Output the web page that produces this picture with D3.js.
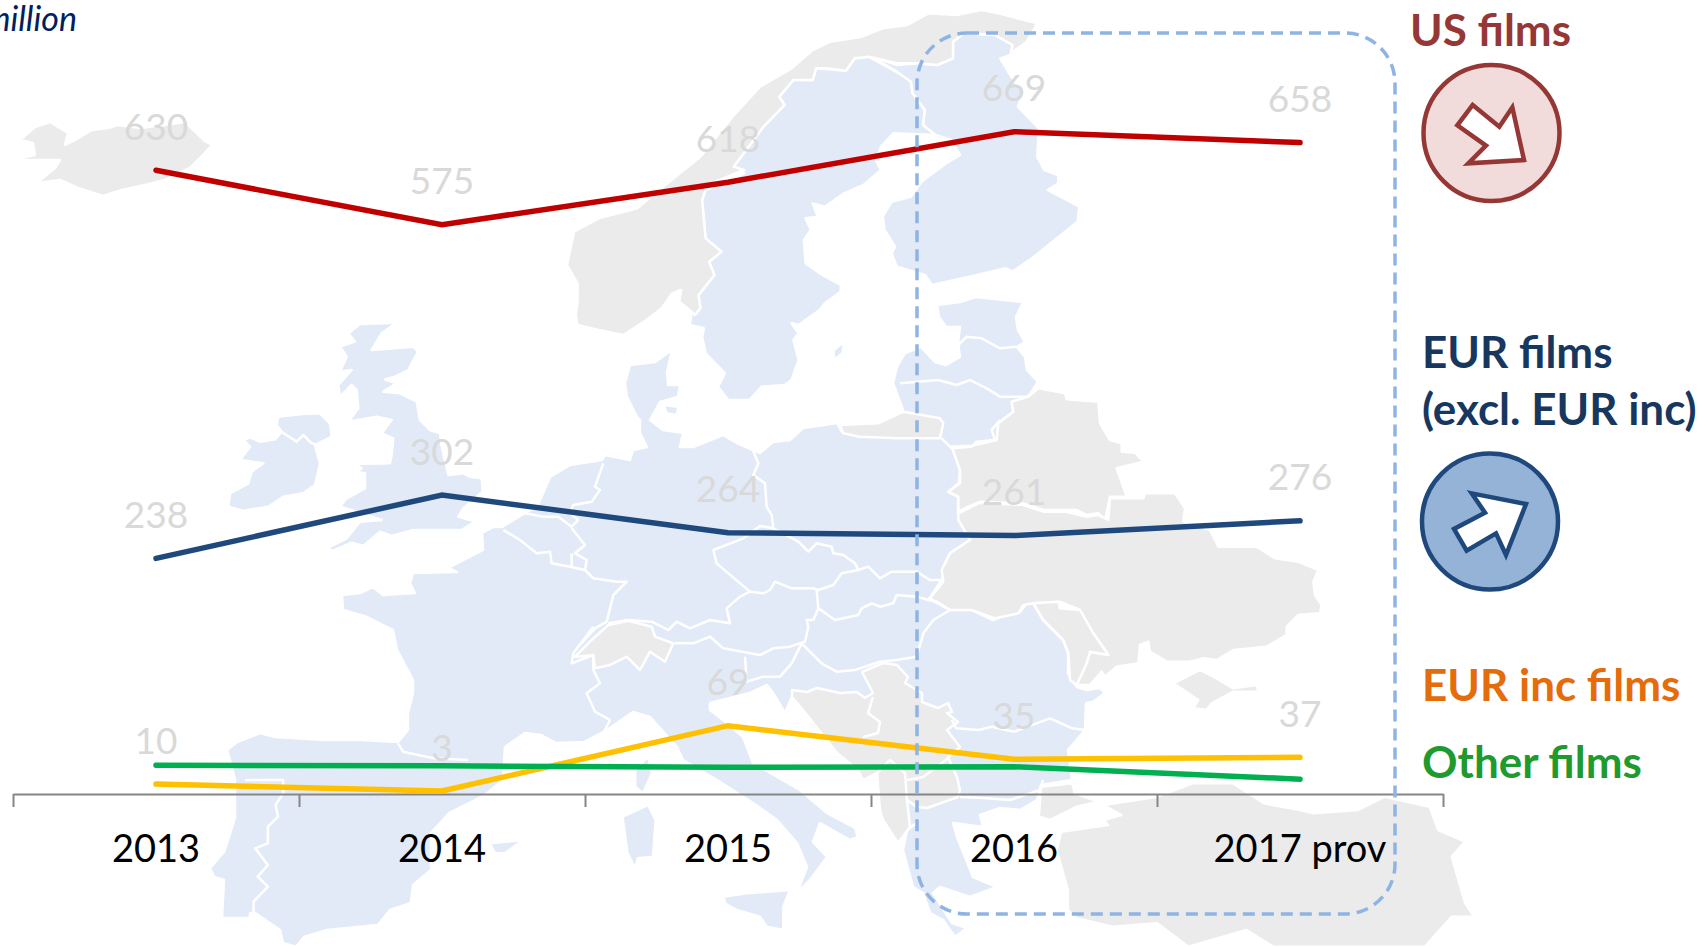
<!DOCTYPE html>
<html>
<head>
<meta charset="utf-8">
<script src="https://cdn.jsdelivr.net/npm/d3@7"></script>
<style>
    html, body { margin: 0; padding: 0; background: #fff; }
    svg { display: block; }
    text { font-family: Lato, 'Open Sans', sans-serif; }
</style>
</head>
<body>
<div id="chart"></div>
<script>
const years = ['2013', '2014', '2015', '2016', '2017 prov'];

const usFilms = [630, 575, 618, 669, 658];
const eurFilms = [238, 302, 264, 261, 276];
const eurIncFilms = [10, 3, 69, 35, 37];
// no labels on the green line in the picture, read from its height
const otherFilms = [29, 28.5, 27, 27.5, 15];

const legendUs = ['US films'];
const legendEur = ['EUR films', '(excl. EUR inc)'];
const legendInc = ['EUR inc films'];
const legendOther = ['Other films'];

const mapBlue = '#e2eaf7';
const mapGrey = '#ebebeb';

// background map, traced in the pixel space of a few crops: [x0, y0, sx, sy]
const FULL = [0, 0, 1, 1];
const UK = [200, 300, 3, 3];
const NORD = [560, 0, 2.85, 3];
const MID = [550, 400, 3, 3];
const EAST = [900, 280, 3, 3];
const SOUTH = [650, 680, 3, 3];
const IBERIA = [0, 680, 1.96, 3];
const TURKEY = [800, 650, 2.24, 3];

const blueLand = [
    [FULL, '342,595 360,593 373,587 383,595 415,593 410,583 413,573 407,567 415,573 457,572 448,568 483,550 482,533 493,527 502,527 525,513 537,507 550,477 570,465 602,460 605,455 630,460 633,450 647,447 640,433 640,420 637,417 627,397 625,383 630,365 655,362 672,350 667,372 668,385 680,385 678,397 660,402 650,420 663,430 683,433 680,447 693,447 723,435 737,443 760,453 773,442 790,440 803,428 837,423 842,432 860,437 878,433 880,423 903,410 893,383 897,367 905,353 921,347 935,362 946,365 960,357 958,343 960,327 946,327 939,317 937,305 960,302 976,297 1023,302 1016,317 1018,330 1025,342 1017,347 1025,357 1027,370 1038,382 1028,397 1012,402 1013,412 998,423 997,440 972,446 952,447 960,470 959,483 948,492 958,497 958,513 967,530 970,540 950,553 942,570 943,582 930,598 935,602 950,610 972,610 993,620 1010,613 1020,612 1027,603 1033,603 1043,620 1063,640 1068,653 1068,673 1077,687 1087,690 1100,688 1105,693 1093,702 1086,703 1085,730 1068,750 1072,780 1041,785 1037,800 1020,810 1000,808 980,815 983,827 953,823 957,837 973,877 997,887 970,897 940,887 933,893 952,923 967,928 955,937 943,920 930,913 923,893 913,887 903,850 907,830 917,823 910,827 898,843 883,820 880,810 877,773 863,780 858,770 837,753 803,710 792,697 785,713 773,693 767,685 750,693 710,703 710,710 727,723 743,737 753,763 800,790 827,813 855,828 858,837 850,840 820,823 813,842 827,857 810,880 797,893 807,867 797,843 777,820 753,803 717,780 683,760 677,747 650,717 633,712 607,730 584,742 556,743 541,735 525,733 505,747 503,780 485,795 449,813 431,833 431,870 413,885 411,903 390,910 378,925 357,927 327,930 304,937 296,947 283,943 280,930 255,913 250,913 250,918 222,918 224,880 214,877 210,868 224,852 235,818 235,780 230,760 227,750 237,742 260,733 275,737 326,740 362,740 398,742 408,730 408,713 413,693 413,680 397,650 393,630 367,617 343,610'],
    [UK, '480,72 590,68 545,100 515,150 640,140 655,155 635,190 625,210 585,230 555,238 590,250 550,275 600,280 650,305 660,360 690,390 720,400 725,440 745,525 790,520 810,530 845,535 848,575 830,590 790,625 775,650 825,665 785,690 640,690 575,708 540,695 490,738 455,728 400,752 380,745 440,715 480,665 545,660 470,635 420,620 440,595 495,565 495,520 470,515 485,505 465,492 570,490 575,465 580,415 545,400 575,360 530,350 445,365 475,325 470,270 455,255 420,290 415,255 455,210 420,215 440,170 420,140 465,125 445,100'],
    [UK, '235,350 305,342 360,340 390,370 395,410 345,435 360,490 345,555 310,580 250,590 205,620 130,632 85,620 90,580 145,550 155,515 190,490 120,480 150,440 130,420 150,412 180,425 225,418 245,395 230,375'],
    [NORD, '415,570 525,520 495,500 580,380 640,315 625,290 665,240 720,240 730,205 815,212 840,175 880,170 1000,240 1005,280 1040,330 1035,375 1070,405 950,400 915,440 900,480 915,510 865,555 810,580 755,620 720,610 735,650 700,655 715,690 695,720 700,790 740,820 800,855 800,875 755,910 740,930 680,975 660,970 680,1000 665,1020 680,1080 660,1140 640,1155 575,1160 540,1200 480,1200 450,1160 470,1120 415,1060 405,1010 410,985 370,975 375,940 400,925 395,885 440,825 425,785 460,755 415,715 405,600'],
    [NORD, '780,1050 810,1025 805,1060 780,1080'],
    [NORD, '1020,190 1075,195 1120,175 1120,125 1150,100 1240,105 1290,135 1285,165 1255,175 1280,220 1320,280 1305,320 1365,385 1360,470 1380,510 1420,525 1420,550 1390,570 1480,620 1475,665 1345,775 1290,815 1270,805 1190,825 1060,855 1040,825 960,800 945,760 955,740 925,690 920,650 945,605 1000,590 1030,545 1100,490 1140,465 1115,420 1070,405 1035,375 1040,330 1005,280 1000,245 960,215 880,165 960,195'],
    [SOUTH, '220,650 290,640 420,630 400,680 400,750 350,740 330,710 260,690 225,670'],
    [IBERIA, '1220,410 1270,375 1285,420 1280,530 1250,535 1245,565 1230,520'],
    [IBERIA, '1270,230 1278,280 1260,340 1245,320 1245,270'],
    [IBERIA, '960,490 990,485 1025,480 990,520 970,520'],
    [MID, '340,15 385,20 380,45 350,40']
];

const greyLand = [
    [FULL, '15,159 35,155 33,143 20,140 35,127 50,122 68,133 65,145 75,140 92,130 108,128 118,125 140,128 165,125 185,122 205,141 212,145 200,158 190,168 165,180 145,185 122,190 103,196 78,188 60,180 37,183 55,168 60,160 30,160'],
    [NORD, '45,945 50,975 110,990 180,1005 240,965 290,925 320,880 345,870 340,905 375,935 385,945 400,925 395,885 440,825 425,785 460,755 415,715 405,600 420,555 525,510 495,500 580,380 640,315 625,290 665,240 720,240 730,205 760,205 815,212 840,175 880,170 960,190 1020,190 1075,195 1120,175 1120,125 1150,100 1240,105 1290,135 1285,160 1330,125 1360,70 1250,40 1200,30 1130,45 1050,40 990,75 920,85 860,110 770,125 720,150 660,205 570,260 500,340 400,470 300,555 220,625 110,655 40,695 20,795 50,850 50,905'],
    [MID, '870,75 985,70 1060,35 1170,55 1180,70 1170,115 1040,115 930,110 880,100'],
    [MID, '75,770 130,715 175,675 235,662 305,680 315,710 370,730 345,785 300,755 270,810 230,770 180,795 135,805 130,765 80,770'],
    [FULL, '792,690 807,692 817,688 840,693 857,692 865,698 873,693 862,672 883,663 897,665 908,677 905,683 922,693 922,702 938,708 948,703 952,712 947,713 958,722 947,730 960,747 948,757 957,777 960,790 958,797 927,808 917,807 907,800 910,827 898,843 883,820 880,810 877,773 863,780 858,770 837,753 803,710 792,697'],
    [EAST, '415,325 495,340 500,358 595,365 600,430 630,480 665,490 665,515 705,518 730,545 650,565 680,650 630,650 615,720 595,700 560,705 530,690 500,690 430,690 370,670 240,665 205,680 175,695 175,650 145,635 180,610 180,570 155,500 215,497 290,480 295,430 340,395 335,365 385,350'],
    [EAST, '175,700 240,668 370,675 430,695 500,695 560,710 595,705 625,720 630,655 730,655 735,640 825,640 855,685 850,725 930,750 955,800 1070,800 1125,835 1195,845 1255,870 1240,905 1245,945 1265,975 1260,1000 1195,1005 1160,1040 1160,1065 1100,1100 1000,1110 950,1140 910,1135 870,1145 800,1145 750,1115 745,1085 720,1095 715,1150 650,1160 615,1190 605,1175 570,1215 530,1215 560,1150 570,1115 625,1125 580,1060 540,990 480,965 400,970 370,975 355,1000 285,1015 215,990 150,990 90,955 130,905 125,870 150,820 210,780 175,720'],
    [EAST, '400,970 475,965 480,985 540,990 580,1060 625,1125 570,1115 560,1150 530,1215 510,1200 505,1120 490,1080 430,1020'],
    [EAST, '820,1210 900,1170 950,1195 1000,1225 1070,1215 1075,1235 1000,1235 935,1270 920,1290 880,1285 895,1260'],
    [TURKEY, '800,440 680,465 720,495 680,510 690,525 585,545 575,600 600,720 600,780 620,805 700,830 800,820 870,890 1000,840 1060,890 1400,890 1460,800 1510,800 1490,760 1460,620 1490,575 1430,540 1410,470 1310,440 1250,480 1150,490 1120,480 1040,460 970,400 880,400'],
    [TURKEY, '540,410 610,400 615,430 668,455 620,470 560,510 535,500']
];

const borderLines = [
    [UK, '248,398 290,425 310,405 335,430 345,432'],
    [UK, '910,690 960,720 1010,760 1050,755 1055,790 1110,800 1155,810 1180,835 1250,845 1280,845 1240,885 1220,965 1185,985 1130,1045'],
    [UK, '975,640 1030,650 1075,650 1115,680 1135,660'],
    [UK, '1115,685 1155,735 1125,760 1160,780 1155,810'],
    [UK, '1115,760 1115,800'],
    [UK, '1210,490 1185,560 1200,570 1175,605 1120,615 1110,640 1135,660'],
    [MID, '130,680 70,760 65,790 130,765 130,810 150,850 110,880 135,935 180,960 160,1000'],
    [MID, '600,130 625,190 610,225 645,250 650,320 665,345 670,385 630,378 580,415 490,450 500,490 600,575'],
    [MID, '600,575 570,590 530,625 540,670 480,660 420,685 380,665 355,690 305,665 235,660 175,670'],
    [MID, '670,385 745,425 775,455 800,430 845,440 850,460 880,465 915,490 925,510'],
    [MID, '925,510 875,520 850,555 805,570 790,565 725,565 675,545 660,570 640,580 600,575'],
    [MID, '800,570 805,625 790,660 770,660 775,680 765,725 720,740 670,745 630,765 520,745 480,710 430,730 375,730'],
    [MID, '805,625 855,660 925,645 935,625 965,610 990,620 1030,610 1040,585 1100,590 1135,600 1160,605 1200,630'],
    [MID, '925,510 955,500 990,535 1025,515 1100,515 1140,540 1175,540 1135,600'],
    [MID, '1200,630 1150,660 1120,700 1100,770 1040,780 990,785 915,810 860,815 815,790 755,730'],
    [MID, '755,730 725,790 690,830 640,830 590,845 585,770'],
    [MID, '1175,115 1205,145 1265,140 1280,125 1335,120 1325,90 1350,60'],
    [EAST, '0,310 115,300 170,315 210,300 260,325 300,350 385,350'],
    [EAST, '175,195 200,170 245,175 300,205 350,200'],
    [TURKEY, '340,210 350,235 400,240 430,230 480,245 560,205 610,235 638,240'],
    [FULL, '873,697 868,713 880,722 878,733 863,737'],
    [FULL, '877,773 890,760 905,773 907,800'],
    [FULL, '907,780 923,777 950,757'],
    [FULL, '960,797 983,798 1010,800 1040,790 1043,780'],
    [IBERIA, '480,300 555,300 555,340 540,375 545,410 525,440 525,490 500,505 525,555 505,590 525,620 497,665 497,700'],
    [IBERIA, '780,190 790,215 850,235 918,240']
];

const usArrow = [1380, 0, 3, 3];
const eurArrow = [1380, 310, 3, 3];
const usArrowPts = '278,315 358,380 397,322 432,480 265,490 318,437 232,376';
const eurArrowPts = '275,550 438,582 378,735 348,670 260,722 222,657 315,608';

const width = 1705;
const height = 947;

let svg = d3.select('#chart').append('svg')
    .attr('width', width)
    .attr('height', height);

function traced(crop, pts) {
    return pts.split(' ').map(p => {
        let [a, b] = p.split(',').map(Number);
        return [crop[0] + a / crop[2], crop[1] + b / crop[3]];
    });
}

let shapeLine = d3.line();

function drawLand(list, fill) {
    svg.append('g').selectAll('path')
        .data(list)
        .enter().append('path')
        .attr('d', d => shapeLine(traced(d[0], d[1])) + 'Z')
        .attr('fill', fill)
        .attr('stroke', '#fff')
        .attr('stroke-width', 2.5)
        .attr('stroke-linejoin', 'round');
}

drawLand(blueLand, mapBlue);
drawLand(greyLand, mapGrey);

svg.append('g').selectAll('path')
    .data(borderLines)
    .enter().append('path')
    .attr('d', d => shapeLine(traced(d[0], d[1])))
    .attr('fill', 'none')
    .attr('stroke', '#fff')
    .attr('stroke-width', 2.5)
    .attr('stroke-linejoin', 'round');

// scales
const axisLeft = 13;
const axisRight = 1443;
const axisY = 794;

let x = d3.scaleBand().domain(years).range([axisLeft, axisRight]);
let y = d3.scaleLinear().domain([0, 700]).range([axisY, axisY - 693]);
let edges = d3.scaleLinear().domain([0, years.length]).range([axisLeft, axisRight]);

let line = d3.line()
    .x((d, i) => x(years[i]) + x.bandwidth() / 2)
    .y(d => y(d));

// value labels
[usFilms, eurFilms, eurIncFilms].forEach(series => {
    svg.append('g').selectAll('text')
        .data(series)
        .enter().append('text')
        .attr('x', (d, i) => x(years[i]) + x.bandwidth() / 2)
        .attr('y', d => y(d) - 30.5)
        .attr('text-anchor', 'middle')
        .attr('font-size', 37)
        .attr('fill', '#d9d9d9')
        .text(d => d);
});

// axis with ticks between the categories
let tickAxis = svg.append('g')
    .attr('transform', 'translate(0,' + axisY + ')')
    .call(d3.axisBottom(edges)
        .tickValues(d3.range(years.length + 1))
        .tickSize(13)
        .tickSizeOuter(0)
        .tickFormat(''));
tickAxis.selectAll('path, line')
    .attr('stroke', '#868686')
    .attr('stroke-width', 2);

let labelAxis = svg.append('g')
    .attr('transform', 'translate(0,' + axisY + ')')
    .call(d3.axisBottom(x).tickSize(0).tickPadding(41));
labelAxis.select('.domain').remove();
labelAxis.selectAll('text')
    .attr('font-family', 'Lato')
    .attr('font-size', 38)
    .attr('fill', '#000');

// lines
const lineSeries = [
    [usFilms, '#c00000'],
    [eurFilms, '#1f497d'],
    [eurIncFilms, '#ffc000'],
    [otherFilms, '#00b050']
];
svg.append('g').selectAll('path')
    .data(lineSeries)
    .enter().append('path')
    .attr('d', d => line(d[0]))
    .attr('fill', 'none')
    .attr('stroke', d => d[1])
    .attr('stroke-width', 5.5)
    .attr('stroke-linecap', 'round')
    .attr('stroke-linejoin', 'miter');

// dashed frame around the last two years
svg.append('rect')
    .attr('x', 917)
    .attr('y', 33)
    .attr('width', 478)
    .attr('height', 881)
    .attr('rx', 50)
    .attr('ry', 50)
    .attr('fill', 'none')
    .attr('stroke', '#8eb4e3')
    .attr('stroke-width', 3.5)
    .attr('stroke-dasharray', '12 7');

// unit, cut off at the left edge like in the picture
svg.append('text')
    .attr('x', 77)
    .attr('y', 31)
    .attr('text-anchor', 'end')
    .attr('font-size', 34)
    .attr('font-style', 'italic')
    .attr('fill', '#002060')
    .text('million');

// legend
function legendText(lines, xPos, yPos, color) {
    svg.append('g').selectAll('text')
        .data(lines)
        .enter().append('text')
        .attr('x', xPos)
        .attr('y', (d, i) => yPos + i * 57)
        .attr('font-size', 44)
        .attr('font-weight', 700)
        .attr('fill', color)
        .text(d => d);
}
legendText(legendUs, 1410, 46, '#953735');
legendText(legendEur, 1422, 368, '#17375e');
legendText(legendInc, 1422, 701, '#e46c0a');
legendText(legendOther, 1422, 778, '#1f9a2e');

function trendIcon(cx, cy, fill, stroke, crop, pts) {
    svg.append('circle')
        .attr('cx', cx)
        .attr('cy', cy)
        .attr('r', 68)
        .attr('fill', fill)
        .attr('stroke', stroke)
        .attr('stroke-width', 4.5);
    svg.append('path')
        .attr('d', shapeLine(traced(crop, pts)) + 'Z')
        .attr('fill', '#fff')
        .attr('stroke', stroke)
        .attr('stroke-width', 4.5);
}
trendIcon(1491.5, 133, '#f2dcdb', '#953735', usArrow, usArrowPts);
trendIcon(1490, 521.5, '#95b3d7', '#1f497d', eurArrow, eurArrowPts);
</script>
</body>
</html>
